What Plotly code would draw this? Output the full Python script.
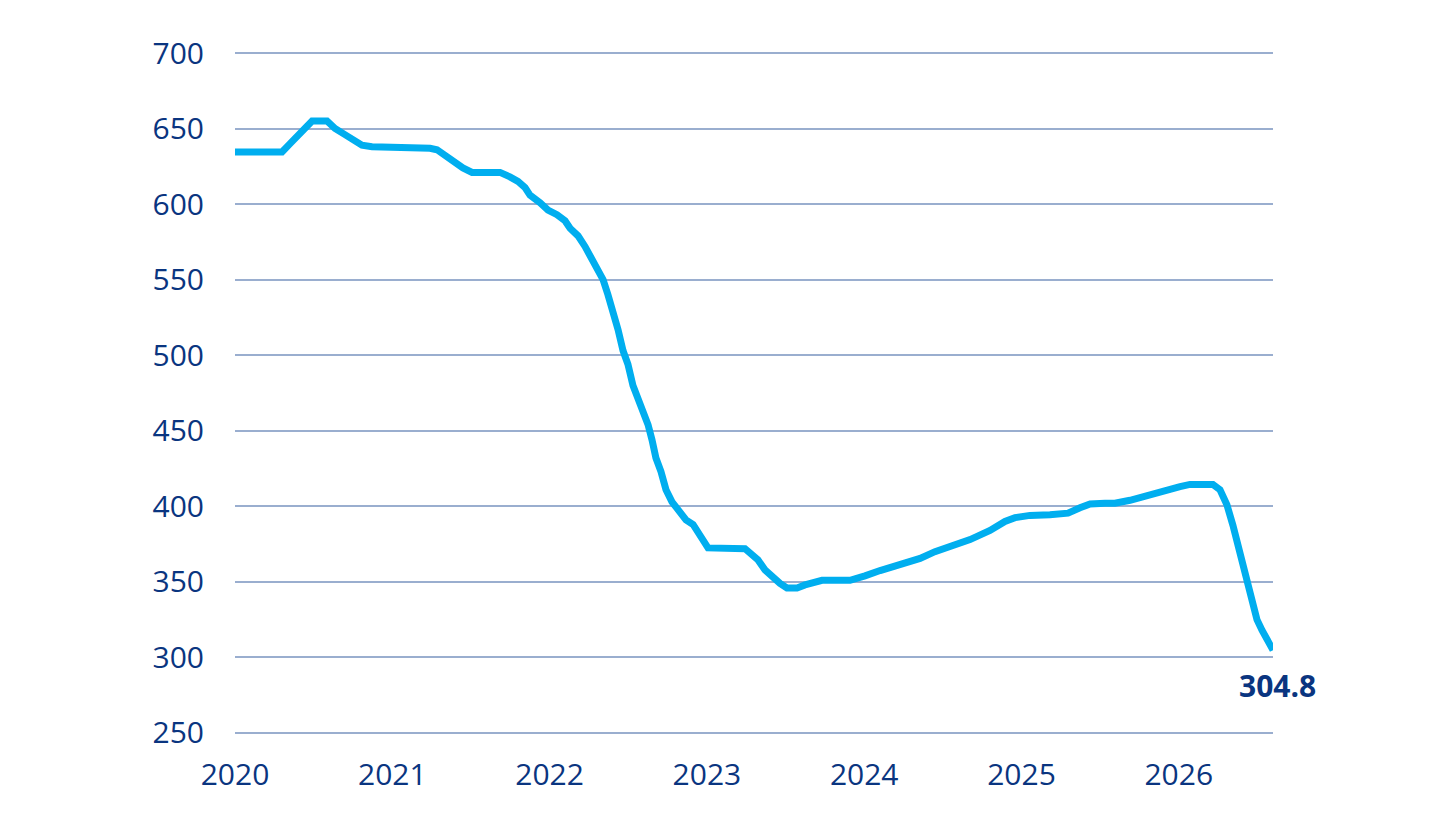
import plotly.graph_objects as go

# fractional year positions and values
years = [2020.000, 2020.299, 2020.350, 2020.394, 2020.432, 2020.490, 2020.585, 2020.636,
         2020.699, 2020.763, 2020.807, 2020.871, 2021.113, 2021.240, 2021.284, 2021.335,
         2021.399, 2021.449, 2021.507, 2021.685, 2021.748, 2021.799, 2021.844, 2021.875,
         2021.939, 2021.990, 2022.047, 2022.098, 2022.130, 2022.181, 2022.225, 2022.270,
         2022.308, 2022.340, 2022.371, 2022.403, 2022.435, 2022.467, 2022.498, 2022.530,
         2022.562, 2022.594, 2022.626, 2022.651, 2022.676, 2022.708, 2022.740, 2022.778,
         2022.829, 2022.867, 2022.912, 2022.956, 2023.007, 2023.242, 2023.287, 2023.325,
         2023.369, 2023.414, 2023.465, 2023.509, 2023.573, 2023.624, 2023.687, 2023.732,
         2023.910, 2023.961, 2024.005, 2024.101, 2024.228, 2024.355, 2024.450, 2024.545,
         2024.673, 2024.800, 2024.895, 2024.959, 2025.054, 2025.181, 2025.296, 2025.372,
         2025.436, 2025.531, 2025.594, 2025.690, 2025.785, 2025.881, 2026.008, 2026.071,
         2026.217, 2026.262, 2026.306, 2026.344, 2026.376, 2026.408, 2026.440, 2026.465,
         2026.497, 2026.529, 2026.561, 2026.599]
values = [634.5, 634.5, 640, 645, 650, 655, 655, 650,
          646, 642, 639, 638, 638, 637, 636, 632,
          627, 624, 621, 621, 618, 615, 611, 606,
          601, 596, 593, 589, 584, 579, 572, 564,
          556, 550, 540, 530, 517, 503, 494, 480,
          472, 462, 454, 444, 432, 423, 411, 403,
          396, 391, 388, 380, 372.5, 372, 368.5, 364.5,
          358, 353, 349, 346, 346, 348, 350, 351,
          351, 352, 354, 357.5, 361.5, 365.5, 370, 373,
          378, 384, 390, 392.5, 394, 394.5, 395.5, 399,
          401.5, 402, 402, 404, 407, 410, 413, 414.5,
          414.5, 411, 401, 387.5, 374.5, 361, 348, 334.5,
          325, 318, 311.5, 304.8]

year_ticks = [2020, 2021, 2022, 2023, 2024, 2025, 2026]
year_labels = ["2020", "2021", "2022", "2023", "2024", "2025", "2026"]
y_ticks = [250, 300, 350, 400, 450, 500, 550, 600, 650, 700]
last_label = "304.8"

NAVY = "#0A3580"
LINE = "#00AEEF"
GRID = "#9AAECF"
FONT = "Open Sans"

fig = go.Figure()
fig.add_trace(go.Scatter(
    x=years, y=values, mode="lines",
    line=dict(color=LINE, width=7),
    hoverinfo="skip", showlegend=False,
))

fig.add_annotation(
    x=years[-1], y=values[-1], text="<b>" + last_label + "</b>",
    showarrow=False, xanchor="center", yanchor="top", xshift=4, yshift=-13,
    font=dict(family=FONT, size=30, color=NAVY),
)

fig.update_layout(
    width=1430, height=827,
    margin=dict(l=227, r=165, t=42, b=99),
    paper_bgcolor="white", plot_bgcolor="white",
    font=dict(family=FONT, size=30, color=NAVY),
    showlegend=False,
)
fig.update_xaxes(
    range=[2020, years[-1]], tickmode="array", tickvals=year_ticks, ticktext=year_labels,
    showgrid=False, zeroline=False, showline=False,
    ticks="outside", ticklen=12, tickcolor="rgba(0,0,0,0)",
    tickfont=dict(family=FONT, size=30, color=NAVY),
)
fig.update_yaxes(
    range=[248, 702], tickmode="array", tickvals=y_ticks,
    showgrid=True, gridcolor=GRID, gridwidth=1.5, zeroline=False, showline=False,
    ticks="outside", ticklen=24, tickcolor="rgba(0,0,0,0)",
    tickfont=dict(family=FONT, size=30, color=NAVY),
)

fig.write_html("out.html")
